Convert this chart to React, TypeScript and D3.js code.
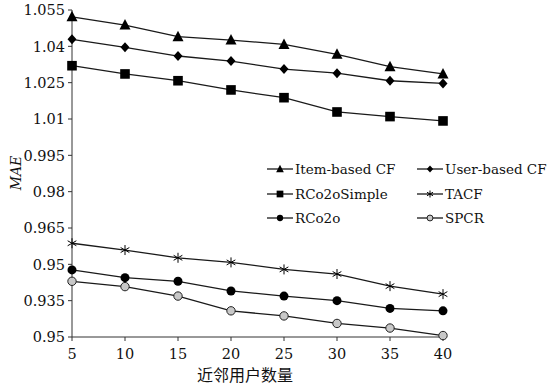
import React, { useEffect, useRef } from 'react';
import * as d3 from 'd3';

const neighbors = [5, 10, 15, 20, 25, 30, 35, 40];
const yTicks = [0.92, 0.935, 0.95, 0.965, 0.98, 0.995, 1.01, 1.025, 1.04, 1.055];
const yTickLabels = ['0.95', '0.935', '0.95', '0.965', '0.98', '0.995', '1.01', '1.025', '1.04', '1.055'];

const itemBased = [1.0522, 1.0488, 1.044, 1.0426, 1.0408, 1.0367, 1.0316, 1.0286];
const userBased = [1.0429, 1.0396, 1.036, 1.0339, 1.0306, 1.0289, 1.0258, 1.0247];
const rco2oSimple = [1.032, 1.0286, 1.0258, 1.022, 1.0188, 1.0129, 1.011, 1.0092];
const tacf = [0.9587, 0.9559, 0.9527, 0.9508, 0.9479, 0.946, 0.941, 0.9377];
const rco2o = [0.9477, 0.9445, 0.943, 0.939, 0.9369, 0.935, 0.9318, 0.9308];
const spcr = [0.943, 0.9408, 0.9369, 0.9308, 0.9287, 0.9256, 0.9237, 0.9206];

const seriesNames = ['Item-based CF', 'User-based CF', 'RCo2oSimple', 'TACF', 'RCo2o', 'SPCR'];
const seriesMarkers = ['triangle', 'diamond', 'square', 'star', 'circle', 'ring'];
const seriesValues = [itemBased, userBased, rco2oSimple, tacf, rco2o, spcr];

const FONT = '"DejaVu Serif", "Liberation Serif", serif';

function drawMarker(g: any, kind: string, cx: number, cy: number, s: number) {
  if (kind === 'triangle') {
    g.append('path')
      .attr('d', `M${cx},${cy - s * 0.6}L${cx + s * 0.55},${cy + s * 0.45}L${cx - s * 0.55},${cy + s * 0.45}Z`)
      .attr('fill', '#000');
  } else if (kind === 'diamond') {
    g.append('path')
      .attr('d', `M${cx},${cy - s * 0.5}L${cx + s * 0.45},${cy}L${cx},${cy + s * 0.5}L${cx - s * 0.45},${cy}Z`)
      .attr('fill', '#000');
  } else if (kind === 'square') {
    g.append('rect')
      .attr('x', cx - s * 0.48).attr('y', cy - s * 0.48)
      .attr('width', s * 0.96).attr('height', s * 0.96)
      .attr('fill', '#000');
  } else if (kind === 'star') {
    const r = s * 0.5;
    const a = r * 0.87, b = r * 0.5;
    g.append('path')
      .attr('d', `M${cx},${cy - r}L${cx},${cy + r}M${cx - a},${cy - b}L${cx + a},${cy + b}M${cx - a},${cy + b}L${cx + a},${cy - b}`)
      .attr('stroke', '#000').attr('stroke-width', 1).attr('fill', 'none');
  } else if (kind === 'circle') {
    g.append('circle').attr('cx', cx).attr('cy', cy).attr('r', s * 0.45).attr('fill', '#000');
  } else {
    g.append('circle').attr('cx', cx).attr('cy', cy).attr('r', s * 0.42)
      .attr('fill', '#c8c8c8').attr('stroke', '#222').attr('stroke-width', 1);
  }
}

const App = () => {
  const ref = useRef<SVGSVGElement>(null);

  useEffect(() => {
    const svg = d3.select(ref.current);
    svg.selectAll('*').remove();

    const x = d3.scaleLinear().domain([5, 40]).range([72, 443]);
    const y = d3.scaleLinear().domain([0.92, 1.055]).range([337, 10]);

    // axes
    svg.append('line').attr('x1', 72).attr('x2', 72).attr('y1', y(1.055)).attr('y2', y(0.92))
      .attr('stroke', '#333').attr('stroke-width', 1);
    svg.append('line').attr('x1', 72).attr('x2', x(40)).attr('y1', y(0.92)).attr('y2', y(0.92))
      .attr('stroke', '#333').attr('stroke-width', 1);

    yTicks.forEach((t, i) => {
      svg.append('line').attr('x1', 68).attr('x2', 72).attr('y1', y(t)).attr('y2', y(t))
        .attr('stroke', '#333');
      svg.append('text').attr('x', 65).attr('y', y(t)).attr('dy', '0.36em')
        .attr('text-anchor', 'end').attr('font-family', FONT).attr('font-size', 14.5)
        .attr('fill', '#111').text(yTickLabels[i]);
    });

    neighbors.forEach((n) => {
      svg.append('line').attr('x1', x(n)).attr('x2', x(n)).attr('y1', 337).attr('y2', 341)
        .attr('stroke', '#333');
      svg.append('text').attr('x', x(n)).attr('y', 359)
        .attr('text-anchor', 'middle').attr('font-family', FONT).attr('font-size', 14.5)
        .attr('fill', '#111').text(n);
    });

    svg.append('text').attr('x', 245).attr('y', 381).attr('text-anchor', 'middle')
      .attr('font-family', '"Noto Sans CJK SC", sans-serif').attr('font-size', 16)
      .attr('fill', '#111').text('近邻用户数量');

    svg.append('text').attr('transform', 'translate(21,173) rotate(-90)')
      .attr('text-anchor', 'middle').attr('font-family', FONT).attr('font-style', 'italic')
      .attr('font-size', 14).attr('fill', '#111').text('MAE');

    const line = d3.line<number>().x((_, i) => x(neighbors[i])).y((v) => y(v));

    seriesValues.forEach((vals, si) => {
      svg.append('path').datum(vals).attr('d', line).attr('fill', 'none')
        .attr('stroke', '#1a1a1a').attr('stroke-width', 1.3);
      const g = svg.append('g');
      vals.forEach((v, i) => drawMarker(g, seriesMarkers[si], x(neighbors[i]), y(v), 10));
    });

    // legend
    const legendRows = [169, 194, 218];
    const legendCols = [267, 417];
    seriesNames.forEach((name, i) => {
      const lx = legendCols[i % 2];
      const ly = legendRows[Math.floor(i / 2)];
      svg.append('line').attr('x1', lx).attr('x2', lx + 26).attr('y1', ly).attr('y2', ly)
        .attr('stroke', '#1a1a1a').attr('stroke-width', 1.3);
      drawMarker(svg.append('g'), seriesMarkers[i], lx + 13, ly, 7);
      svg.append('text').attr('x', lx + 28).attr('y', ly).attr('dy', '0.36em')
        .attr('font-family', FONT).attr('font-size', 13.5).attr('fill', '#111').text(name);
    });
  }, []);

  return (
    <svg ref={ref} width={550} height={386}
      style={{ position: 'absolute', left: 0, top: 0, background: '#fff' }} />
  );
};

export default App;
